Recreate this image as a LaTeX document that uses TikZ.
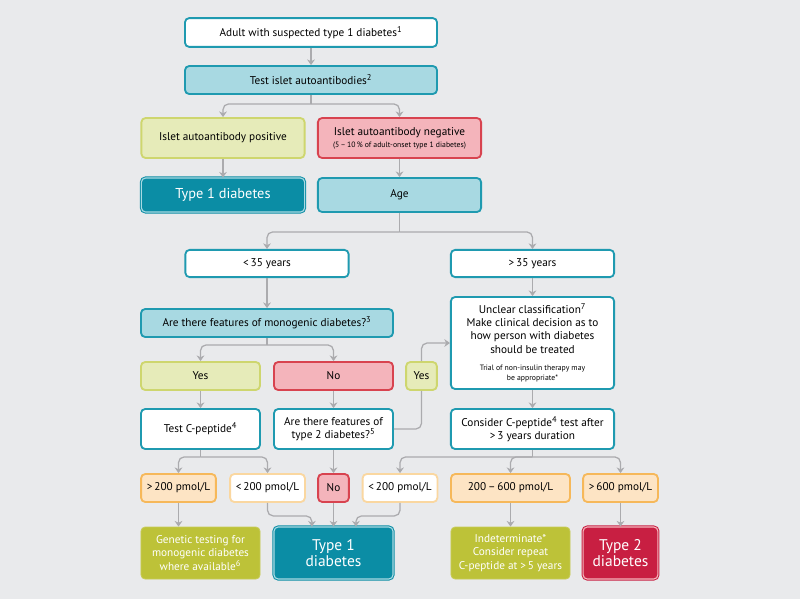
\documentclass[tikz,border=0pt]{standalone}
\usepackage{fontspec}
\setmainfont{PT Sans}
\usetikzlibrary{arrows.meta}
\definecolor{bg}{HTML}{E9EAEC}
\definecolor{tealline}{HTML}{1F9AB0}
\definecolor{teallight}{HTML}{A8D9E2}
\definecolor{tealdark}{HTML}{0B8DA5}
\definecolor{yellowfill}{HTML}{E6EBB9}
\definecolor{yellowline}{HTML}{CED66E}
\definecolor{pinkfill}{HTML}{F4B4BB}
\definecolor{redline}{HTML}{D8434F}
\definecolor{orangefill}{HTML}{FDE4C4}
\definecolor{orangeline}{HTML}{F6B85A}
\definecolor{orangepale}{HTML}{FAD7A0}
\definecolor{olive}{HTML}{BDC238}
\definecolor{crimson}{HTML}{C81F42}
\definecolor{connline}{HTML}{ABABAE}
\begin{document}
\begin{tikzpicture}[x=0.025cm, y=-0.025cm, >={Stealth[length=4pt,width=5.5pt]},
  box/.style={rounded corners=3pt, line width=1.3pt, align=center, inner sep=1pt, font=\fontsize{8}{9.4}\selectfont},
  whitebox/.style={box, draw=tealline, fill=white},
  tealbox/.style={box, draw=tealline, fill=teallight},
  yesbox/.style={box, draw=yellowline, fill=yellowfill},
  nobox/.style={box, draw=redline, fill=pinkfill},
  pmolbox/.style={box, draw=orangeline, fill=orangefill},
  pmolwhite/.style={box, draw=orangepale, fill=white},
  olivebox/.style={box, draw=olive!85!white, line width=0.6pt, fill=olive, text=white},
  resultbox/.style={box, line width=0.7pt, double distance=0.8pt, text=white, font=\fontsize{11}{11.5}\selectfont},
  t1box/.style={resultbox, draw=tealdark, double=teallight, fill=tealdark},
  t2box/.style={resultbox, draw=crimson, double=pinkfill, fill=crimson},
  wide/.style={minimum width=6.3cm},
  mid/.style={minimum width=4.08cm},
  half/.style={minimum width=2.975cm},
  small/.style={minimum width=1.87cm},
  tiny/.style={minimum width=0.77cm},
  line/.style={draw=connline, line width=0.9pt},
  conn/.style={line, ->, rounded corners=4pt}]
\useasboundingbox[fill=bg] (0,0) rectangle (800,599);

% top part
\node[whitebox, wide, minimum height=0.72cm] (adult) at (311,32.5) {Adult with suspected type 1 diabetes\textsuperscript{1}};
\node[tealbox, wide, minimum height=0.7cm] (test) at (311,80) {Test islet autoantibodies\textsuperscript{2}};
\node[yesbox, mid, minimum height=1cm] (pos) at (223,138) {Islet autoantibody positive};
\node[nobox, mid, minimum height=1cm] (neg) at (399.5,138) {Islet autoantibody negative\\[-1pt]\fontsize{5.5}{7}\selectfont(5\,–\,10\,\% of adult-onset type 1 diabetes)};
\node[t1box, mid, minimum height=0.85cm, font=\fontsize{10.2}{11}\selectfont] (typeA) at (223,195) {Type 1 diabetes};
\node[tealbox, mid, minimum height=0.85cm] (age) at (399.5,195) {Age};

% age branches
\node[whitebox, mid, minimum height=0.68cm] (young) at (267,263.5) {<\,35 years};
\node[whitebox, mid, minimum height=0.68cm] (old) at (532.5,263.5) {>\,35 years};
\node[tealbox, wide, minimum height=0.7cm] (mono) at (267,323) {Are there features of monogenic diabetes?\textsuperscript{3}};
\node[whitebox, mid, minimum height=2.3cm] (unclear) at (532.5,343) {Unclear classification\textsuperscript{7}\\Make clinical decision as to\\how person with diabetes\\should be treated\\[3pt]\fontsize{5.5}{6.8}\selectfont Trial of non-insulin therapy may\\[-2pt]\fontsize{5.5}{6.8}\selectfont be appropriate*};
\node[yesbox, half, minimum height=0.7cm] (yesA) at (200.5,376) {Yes};
\node[nobox, half, minimum height=0.7cm] (noA) at (333.5,376) {No};
\node[yesbox, tiny, minimum height=0.7cm] (yesB) at (421.5,376) {Yes};
\node[whitebox, half, minimum height=1cm] (cpep) at (200.5,429) {Test C-peptide\textsuperscript{4}};
\node[whitebox, half, minimum height=1cm] (typeq) at (333.5,429) {Are there features of\\type 2 diabetes?\textsuperscript{5}};
\node[whitebox, mid, minimum height=1cm] (later) at (532.5,429) {Consider C-peptide\textsuperscript{4} test after\\>\,3 years duration};

% C-peptide values
\node[pmolbox, small, minimum height=0.7cm] (hiA) at (178.5,488) {>\,200 pmol/L};
\node[pmolwhite, small, minimum height=0.7cm] (loA) at (267.5,488) {<\,200 pmol/L};
\node[nobox, tiny, minimum height=0.7cm] (noB) at (333.5,488) {No};
\node[pmolwhite, small, minimum height=0.7cm] (loB) at (400,488) {<\,200 pmol/L};
\node[pmolbox, half, minimum height=0.7cm] (range) at (510.5,488) {200\,–\,600 pmol/L};
\node[pmolbox, small, minimum height=0.7cm] (hiB) at (620.5,488) {>\,600 pmol/L};

% outcomes
\node[olivebox, half, minimum height=1.3cm] (genetic) at (200.5,553) {Genetic testing for\\monogenic diabetes\\where available\textsuperscript{6}};
\node[t1box, half, minimum height=1.3cm] (typeB) at (333.5,553) {Type 1\\diabetes};
\node[olivebox, half, minimum height=1.3cm] (indet) at (510.5,553) {Indeterminate*\\Consider repeat\\C-peptide at >\,5 years};
\node[t2box, small, minimum height=1.3cm] (typeC) at (620.5,553) {Type 2\\diabetes};

% connectors
\draw[conn] (adult) -- (test);
\draw[line] (test.south) -- ++(0,9) coordinate (jtest);
\draw[conn] (jtest) -| (pos);
\draw[conn] (jtest) -| (neg);
\draw[conn] (pos) -- (typeA);
\draw[conn] (neg) -- (age);
\draw[line] (age.south) -- ++(0,19) coordinate (jage);
\draw[conn] (jage) -| (young);
\draw[conn] (jage) -| (old);
\draw[conn] (young) -- (mono);
\draw[conn] (old) -- (unclear);
\draw[line] (mono.south) -- ++(0,7) coordinate (jmono);
\draw[conn] (jmono) -| (yesA);
\draw[conn] (jmono) -| (noA);
\draw[conn] (yesA) -- (cpep);
\draw[conn] (noA) -- (typeq);
\draw[line, rounded corners=4pt] (typeq.east) -| (yesB.south);
\draw[conn] (yesB.north) |- (unclear.west);
\draw[conn] (unclear) -- (later);
\draw[line] (cpep.south) -- ++(0,7) coordinate (jcpep);
\draw[conn] (jcpep) -| (hiA);
\draw[conn] (jcpep) -| (loA);
\draw[conn] (typeq) -- (noB);
\draw[line] (later.south) -- ++(0,7) coordinate (jlater);
\draw[conn] (jlater) -| (loB);
\draw[conn] (jlater) -| (range);
\draw[conn] (jlater) -| (hiB);
\draw[conn] (hiA) -- (hiA |- genetic.north);
\draw[conn] (loA.south) -- ++(0,13) -| ([xshift=-0.54cm]typeB.north);
\draw[conn] (noB) -- (typeB);
\draw[conn] (loB.south) -- ++(0,13) -| ([xshift=0.56cm]typeB.north);
\draw[conn] (range) -- (indet);
\draw[conn] (hiB) -- (typeC);
\end{tikzpicture}
\end{document}
